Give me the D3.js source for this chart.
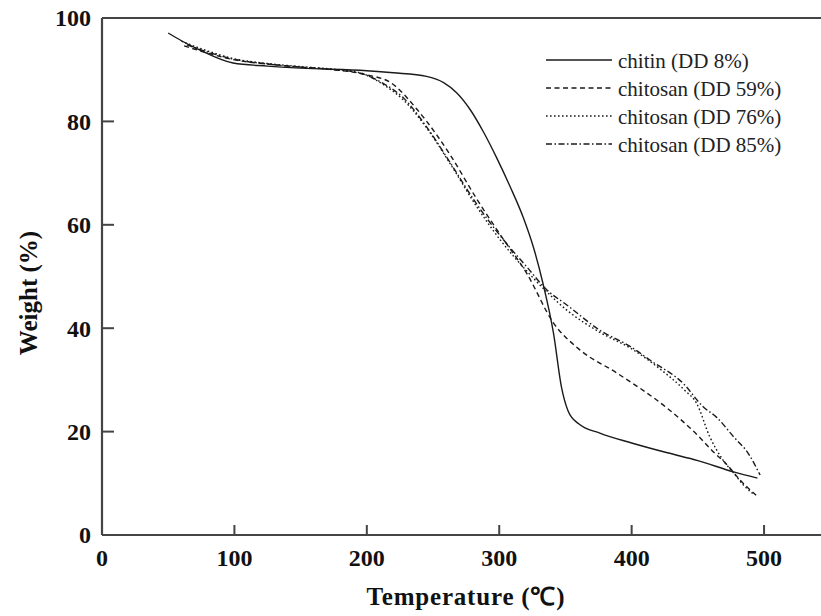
<!DOCTYPE html>
<html>
<head>
<meta charset="utf-8">
<script src="https://cdn.jsdelivr.net/npm/d3@7"></script>
<style>
    body { margin: 0; background: #fff; }
    svg { display: block; }
    .tick-label { font-family: "Liberation Serif", "Times New Roman", serif; font-weight: bold; font-size: 24px; fill: #111; }
    .axis-title { font-family: "Liberation Serif", "Times New Roman", serif; font-weight: bold; font-size: 25px; fill: #111; }
    .legend-text { font-family: "Liberation Serif", "Times New Roman", serif; font-size: 21px; fill: #222; }
</style>
</head>
<body>
<svg width="821" height="616"></svg>
<script>
// TGA curves
let seriesNames = ["chitin (DD 8%)", "chitosan (DD 59%)", "chitosan (DD 76%)", "chitosan (DD 85%)"];

let chitinT = [50, 60, 74, 99, 125, 150, 200, 220, 245, 258, 268, 278, 288, 298, 308, 318, 326, 333, 341, 347, 352, 360, 376, 400, 427, 450, 477, 495];
let chitinW = [97.1, 95.6, 93.8, 91.3, 90.7, 90.3, 89.8, 89.4, 88.7, 87.5, 85.5, 82.3, 78, 73, 67.5, 61.5, 55.5, 48.7, 39, 28.6, 24, 21.5, 19.7, 17.8, 15.9, 14.4, 12.2, 11];

let dd59T = [62, 80, 100, 125, 150, 175, 200, 218, 238, 253, 263, 283, 301, 321, 341, 360, 389, 427, 449, 462, 472, 482, 494];
let dd59W = [94.6, 93.2, 91.9, 91.1, 90.5, 90, 89, 87.5, 82.3, 77.3, 73.5, 65, 58, 50.5, 41, 36, 31.3, 24.5, 19.5, 16, 13.6, 10.6, 7.7];

let dd76T = [60, 80, 100, 125, 150, 175, 195, 212, 227, 245, 263, 283, 301, 321, 336, 351, 376, 400, 421, 440, 449, 459, 469, 477, 485, 492];
let dd76W = [95.5, 93.6, 92.1, 91.2, 90.6, 90.1, 89.4, 87.2, 84.3, 78.8, 71.8, 63.5, 57, 51, 47, 43.5, 39.2, 36, 32.2, 28, 25.5, 19, 14.5, 12, 9.5, 7.9];

let dd85T = [64, 80, 100, 125, 150, 175, 195, 212, 227, 245, 263, 283, 301, 321, 336, 351, 376, 400, 414, 439, 454, 464, 477, 488, 497];
let dd85W = [94.8, 93.4, 92, 91.1, 90.5, 90, 89.3, 87.4, 84.7, 79, 72, 64, 57.8, 51.8, 47.4, 44.5, 39.6, 36.3, 33.8, 29.3, 24.8, 22.8, 19, 15.8, 11.6];

let xTicks = [0, 100, 200, 300, 400, 500];
let yTicks = [0, 20, 40, 60, 80, 100];

let dashes = [null, "5,3.5", "1.6,2.4", "6,2.5,1.5,2.5"];

let svg = d3.select("svg");

let x = d3.scaleLinear().domain([0, 543]).range([102, 821]);
let y = d3.scaleLinear().domain([0, 100]).range([535, 18]);

let series = [
    d3.zip(chitinT, chitinW),
    d3.zip(dd59T, dd59W),
    d3.zip(dd76T, dd76W),
    d3.zip(dd85T, dd85W)
];

// frame: left axis, bottom axis, top line
let axisColor = "#444";
svg.append("line").attr("x1", x(0)).attr("x2", x(0)).attr("y1", y(100)).attr("y2", y(0))
    .attr("stroke", axisColor).attr("stroke-width", 2.2);
svg.append("line").attr("x1", x(0)).attr("x2", x(543)).attr("y1", y(0)).attr("y2", y(0))
    .attr("stroke", axisColor).attr("stroke-width", 2.2);
svg.append("line").attr("x1", x(0)).attr("x2", x(543)).attr("y1", y(100)).attr("y2", y(100))
    .attr("stroke", axisColor).attr("stroke-width", 2.2);

// x ticks (inward)
svg.selectAll(".xtick")
    .data(xTicks.filter(d => d > 0))
    .enter()
    .append("line")
    .attr("x1", d => x(d)).attr("x2", d => x(d))
    .attr("y1", y(0)).attr("y2", y(0) - 10)
    .attr("stroke", axisColor).attr("stroke-width", 2);

svg.selectAll(".xlabel")
    .data(xTicks)
    .enter()
    .append("text")
    .attr("class", "tick-label")
    .attr("x", d => x(d))
    .attr("y", 566)
    .attr("text-anchor", "middle")
    .text(d => d);

// y ticks (inward)
svg.selectAll(".ytick")
    .data(yTicks.filter(d => d > 0 && d < 100))
    .enter()
    .append("line")
    .attr("x1", x(0)).attr("x2", x(0) + 12)
    .attr("y1", d => y(d)).attr("y2", d => y(d))
    .attr("stroke", axisColor).attr("stroke-width", 2);

svg.selectAll(".ylabel")
    .data(yTicks)
    .enter()
    .append("text")
    .attr("class", "tick-label")
    .attr("x", 91)
    .attr("y", d => y(d))
    .attr("dy", "0.35em")
    .attr("text-anchor", "end")
    .text(d => d);

svg.append("text")
    .attr("class", "axis-title")
    .attr("x", 466)
    .attr("y", 605)
    .attr("text-anchor", "middle")
    .attr("letter-spacing", "0.8")
    .text("Temperature (\u2103)");

svg.append("text")
    .attr("class", "axis-title")
    .attr("transform", "translate(37,293) rotate(-90)")
    .attr("text-anchor", "middle")
    .text("Weight (%)");

// curves
let line = d3.line()
    .x(d => x(d[0]))
    .y(d => y(d[1]))
    .curve(d3.curveMonotoneX);

svg.selectAll(".curve")
    .data(series)
    .enter()
    .append("path")
    .attr("d", line)
    .attr("fill", "none")
    .attr("stroke", "#1a1a1a")
    .attr("stroke-width", 1.4)
    .attr("stroke-dasharray", (d, i) => dashes[i]);

// legend
let legend = svg.selectAll(".legend")
    .data(seriesNames)
    .enter()
    .append("g")
    .attr("transform", (d, i) => `translate(0, ${68 + i * 28})`);

legend.append("line")
    .attr("x1", 546).attr("x2", 612)
    .attr("y1", -8).attr("y2", -8)
    .attr("stroke", "#1a1a1a")
    .attr("stroke-width", 1.4)
    .attr("stroke-dasharray", (d, i) => dashes[i]);

legend.append("text")
    .attr("class", "legend-text")
    .attr("x", 618)
    .attr("y", 0)
    .text(d => d);
</script>
</body>
</html>
